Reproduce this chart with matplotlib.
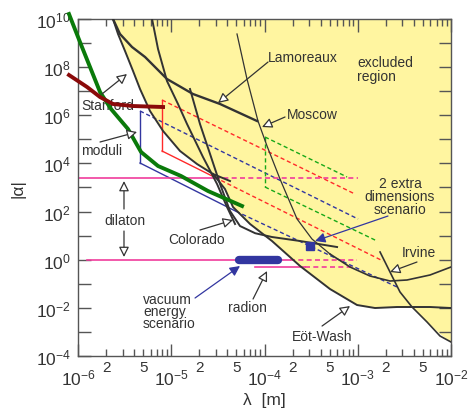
import numpy as np
import matplotlib
matplotlib.use("Agg")
import matplotlib.pyplot as plt
from matplotlib.ticker import FixedLocator, FixedFormatter

plt.rcParams["font.family"] = ["Liberation Sans", "DejaVu Sans"]
plt.rcParams["mathtext.fontset"] = "custom"
plt.rcParams["mathtext.rm"] = "Liberation Sans"
plt.rcParams["mathtext.it"] = "Liberation Sans:italic"

# ---------------- data: log10(lambda [m]) and log10(|alpha|) ----------------
excl_x = [-5.625, -5.571, -5.496, -5.410, -5.335, -5.228, -5.088, -4.906, -4.724, -4.552,
          -4.424, -4.338, -4.155, -3.920, -3.619, -3.298, -3.008, -2.815, -2.579, -2.418,
          -2.257, -2.118, -2.0, -2.0]
excl_y = [10.0, 9.377, 8.671, 7.840, 7.092, 6.178, 5.347, 4.516, 3.976, 3.560,
          2.937, 2.189, 1.483, 0.777, -0.262, -1.217, -1.882, -2.007, -1.965, -1.965,
          -2.589, -3.087, -3.419, 10.0]

lamor_x = [-5.625, -5.550, -5.421, -5.281, -5.046, -4.767, -4.477, -4.080]
lamor_y = [10.0, 9.377, 8.837, 8.421, 7.507, 6.884, 6.469, 5.762]

curveA_x = [-5.625, -5.571, -5.496, -5.410, -5.335, -5.228, -5.088, -4.906, -4.724, -4.552, -4.370]
curveA_y = [10.0, 9.377, 8.671, 7.840, 7.092, 6.178, 5.347, 4.516, 3.976, 3.560, 3.269]

curveB_x = [-5.206, -5.142, -5.046, -4.928, -4.831, -4.660, -4.509, -4.402, -4.316]
curveB_y = [10.0, 8.754, 7.424, 6.469, 5.638, 4.267, 3.145, 2.189, 1.483]

colo_x = [-4.799, -4.692, -4.584, -4.477, -4.370, -4.263, -4.100, -3.920, -3.619, -3.222]
colo_y = [7.092, 5.638, 4.391, 3.145, 2.023, 1.400, 1.100, 0.943, 0.777, 0.527]

moscow_x = [-4.295, -4.188, -4.070, -3.973, -3.834, -3.651, -3.491, -3.298]
moscow_y = [9.377, 7.507, 5.762, 4.724, 3.353, 1.691, 0.860, 0.237]

irvU_x = [-3.298, -3.083, -2.869, -2.654, -2.472, -2.225, -2.0]
irvU_y = [0.237, -0.303, -0.677, -0.885, -0.843, -0.635, -0.303]

eot_x = [-4.552, -4.424, -4.338, -4.155, -3.920, -3.619, -3.298, -3.008, -2.815, -2.579, -2.225, -2.0]
eot_y = [3.560, 2.937, 2.189, 1.483, 0.777, -0.262, -1.217, -1.882, -2.007, -1.965, -1.965, -2.007]

irvS_x = [-2.761, -2.633, -2.547, -2.418, -2.257, -2.118, -2.0]
irvS_y = [0.320, -0.677, -1.342, -1.965, -2.589, -3.170, -3.419]

green_x = [-6.097, -5.979, -5.764, -5.646, -5.464, -5.324, -5.142, -4.895, -4.606, -4.241]
green_y = [10.208, 9.044, 6.967, 6.261, 5.430, 4.474, 3.893, 3.477, 2.854, 2.231]

stan_x = [-6.097, -5.903, -5.764, -5.625, -5.410, -5.088]
stan_y = [7.673, 7.175, 6.759, 6.469, 6.385, 6.344]

# theory boxes: [left-top, left-bottom, top-end, bottom-end, bottom solid->dashed]
mod_x = [-5.335, -5.335, -2.997, -2.579, -4.306]
mod_y = [6.178, 4.017, 1.691, -1.134, 2.011]
redbox_x = [-5.099, -5.099, -3.030, -2.729, -4.531]
redbox_y = [6.635, 4.516, 2.729, -0.054, 3.419]
grnbox_x = [-3.995, -3.995, -3.115, -2.793]
grnbox_y = [5.098, 3.020, 3.436, 0.777]

dil_y = 3.394
dil_x = [-6.0, -4.531, -2.997]      # start, solid->dashed, end
unit_y = 0.0
unit_x = [-5.903, -3.727, -3.008]
radion_y = -0.303
radion_x = [-4.102, -3.566, -3.030]
vac_x = [-4.273, -3.855]
vac_y = 0.0
square_x, square_y = -3.512, 0.569

ink = "#333333"
yellow = "#fff5a0"
blue = "#3236a0"
red = "#ff2a2a"
gcol = "#18a818"
mag = "#f03c9c"

P = lambda v: 10.0 ** np.asarray(v, dtype=float)

fig = plt.figure(figsize=(4.74, 4.10), dpi=100)
ax = fig.add_axes([0.1646, 0.1293, 0.7869, 0.8219])
ax.set_xscale("log")
ax.set_yscale("log")
ax.set_xlim(1e-6, 1e-2)
ax.set_ylim(1e-4, 1e10)

ax.fill(P(excl_x), P(excl_y), color=yellow, zorder=0, lw=0)

kw = dict(color=ink, zorder=3)
ax.plot(P(lamor_x), P(lamor_y), lw=1.7, **kw)
ax.plot(P(curveA_x), P(curveA_y), lw=1.4, **kw)
ax.plot(P(curveB_x), P(curveB_y), lw=1.4, **kw)
ax.plot(P(colo_x), P(colo_y), lw=1.4, **kw)
ax.plot(P(moscow_x), P(moscow_y), lw=0.9, **kw)
ax.plot(P(irvU_x), P(irvU_y), lw=1.2, **kw)
ax.plot(P(eot_x), P(eot_y), lw=1.4, **kw)
ax.plot(P(irvS_x), P(irvS_y), lw=1.2, **kw)

def seg(xs, ys, color, dashed, lw=1.0):
    line, = ax.plot(P(xs), P(ys), color=color, lw=lw, zorder=2)
    if dashed:
        line.set_dashes((3, 2))

# moduli (blue)
seg([mod_x[0], mod_x[1]], [mod_y[0], mod_y[1]], blue, False)
seg([mod_x[0], mod_x[2]], [mod_y[0], mod_y[2]], blue, True)
seg([mod_x[1], mod_x[4]], [mod_y[1], mod_y[4]], blue, False)
seg([mod_x[4], mod_x[3]], [mod_y[4], mod_y[3]], blue, True)
# red box
seg([redbox_x[0], redbox_x[1]], [redbox_y[0], redbox_y[1]], red, False)
seg([redbox_x[0], redbox_x[2]], [redbox_y[0], redbox_y[2]], red, True)
seg([redbox_x[1], redbox_x[4]], [redbox_y[1], redbox_y[4]], red, False)
seg([redbox_x[4], redbox_x[3]], [redbox_y[4], redbox_y[3]], red, True)
# green box (2 extra dimensions)
seg([grnbox_x[0], grnbox_x[1]], [grnbox_y[0], grnbox_y[1]], gcol, True)
seg([grnbox_x[0], grnbox_x[2]], [grnbox_y[0], grnbox_y[2]], gcol, True)
seg([grnbox_x[1], grnbox_x[3]], [grnbox_y[1], grnbox_y[3]], gcol, True)

# magenta lines
for xs, yv in ((dil_x, dil_y), (unit_x, unit_y), (radion_x, radion_y)):
    seg(xs[:2], [yv, yv], mag, False, 1.2)
    seg(xs[1:], [yv, yv], mag, True, 1.2)

ax.plot(P(green_x), P(green_y), color="#0a7a0a", lw=2.8, zorder=4, clip_on=False)
ax.plot(P(stan_x), P(stan_y), color="#8a0a0a", lw=2.8, zorder=4, clip_on=False)

ax.plot(P(vac_x), P([vac_y, vac_y]), color=blue, lw=6, solid_capstyle="round", zorder=5)
ax.plot(P([square_x]), P([square_y]), marker="s", ms=5.5, color=blue, zorder=5, lw=0)

# ---------------- labels & arrows ----------------
tk = dict(color=ink, fontsize=10)

def arrow(tip, tail, fc="white", ec=ink):
    ax.annotate("", xy=P(tip), xytext=P(tail), textcoords="data",
                arrowprops=dict(arrowstyle="-|>,head_length=0.6,head_width=0.3",
                                fc=fc, ec=ec, lw=0.9, shrinkA=0, shrinkB=0),
                zorder=6)

def label(xy, s, ha="left", ls=1.0):
    ax.text(*P(xy), s, ha=ha, va="center", zorder=1, linespacing=ls, **tk)

label((-5.968, 6.427), "Stanford")
arrow((-5.475, 7.715), (-5.743, 6.884))
label((-5.968, 4.557), "moduli")
arrow((-5.367, 5.305), (-5.764, 4.890))
label((-5.496, 1.649), "dilaton", ha="center")
arrow((-5.507, 3.269), (-5.507, 2.106))
arrow((-5.507, 0.112), (-5.507, 1.192))
label((-4.724, 0.860), "Colorado", ha="center")
arrow((-4.338, 1.649), (-4.692, 1.234))
label((-3.962, 8.421), "Lamoreaux")
arrow((-4.499, 6.510), (-3.962, 8.214))
label((-3.759, 6.053), "Moscow")
arrow((-4.027, 5.513), (-3.780, 5.929))
label((-3.008, 7.923), "excluded\nregion", ls=0.95)
label((-2.547, 2.646), "2 extra\ndimensions\nscenario", ha="center", ls=0.9)
arrow((-3.458, 0.777), (-2.676, 1.815), fc=blue, ec=blue)
label((-2.525, 0.320), "Irvine")
arrow((-2.654, -0.511), (-2.365, -0.096))
label((-3.383, -3.170), "Eöt-Wash", ha="center")
arrow((-3.083, -1.924), (-3.383, -2.755))
label((-4.188, -1.965), "radion", ha="center")
arrow((-3.973, -0.470), (-4.123, -1.633))
label((-5.303, -2.131), "vacuum\nenergy\nscenario", ls=0.85)
arrow((-4.263, -0.262), (-4.745, -1.591), fc=blue, ec=blue)

# ---------------- axes styling ----------------
for s in ax.spines.values():
    s.set_color("#555555")
    s.set_linewidth(1.0)
xmaj = [-6, -5, -4, -3, -2]
ax.xaxis.set_major_locator(FixedLocator(P(xmaj)))
ax.xaxis.set_major_formatter(FixedFormatter([r"$\mathregular{10^{%d}}$" % e for e in xmaj]))
minor_x = [m * 10.0 ** e for e in range(-6, -2) for m in range(2, 10)]
ax.xaxis.set_minor_locator(FixedLocator(minor_x))
ax.xaxis.set_minor_formatter(FixedFormatter(["2" if m == 2 else ("5" if m == 5 else "")
                                             for e in range(-6, -2) for m in range(2, 10)]))
ymaj = list(range(-4, 11))
ax.yaxis.set_major_locator(FixedLocator(P(ymaj)))
ax.yaxis.set_major_formatter(FixedFormatter([(r"$\mathregular{10^{%d}}$" % e) if e % 2 == 0 else ""
                                             for e in ymaj]))
ax.yaxis.set_minor_locator(FixedLocator([]))
ax.tick_params(which="both", direction="in", top=True, right=True, colors="#555555",
               labelcolor=ink)
ax.tick_params(which="major", length=9, width=1.0, labelsize=12.5, pad=5)
ax.tick_params(axis="x", which="major", pad=8)
ax.tick_params(which="minor", length=5, width=1.0, labelsize=11, pad=3)
ax.set_xlabel("λ  [m]", fontsize=12.5, color=ink)
ax.xaxis.set_label_coords(0.5, -0.108)
ax.set_ylabel("|α|", fontsize=12.5, color=ink)
ax.yaxis.set_label_coords(-0.14, 0.5)

fig.savefig("out.png", dpi=100)
